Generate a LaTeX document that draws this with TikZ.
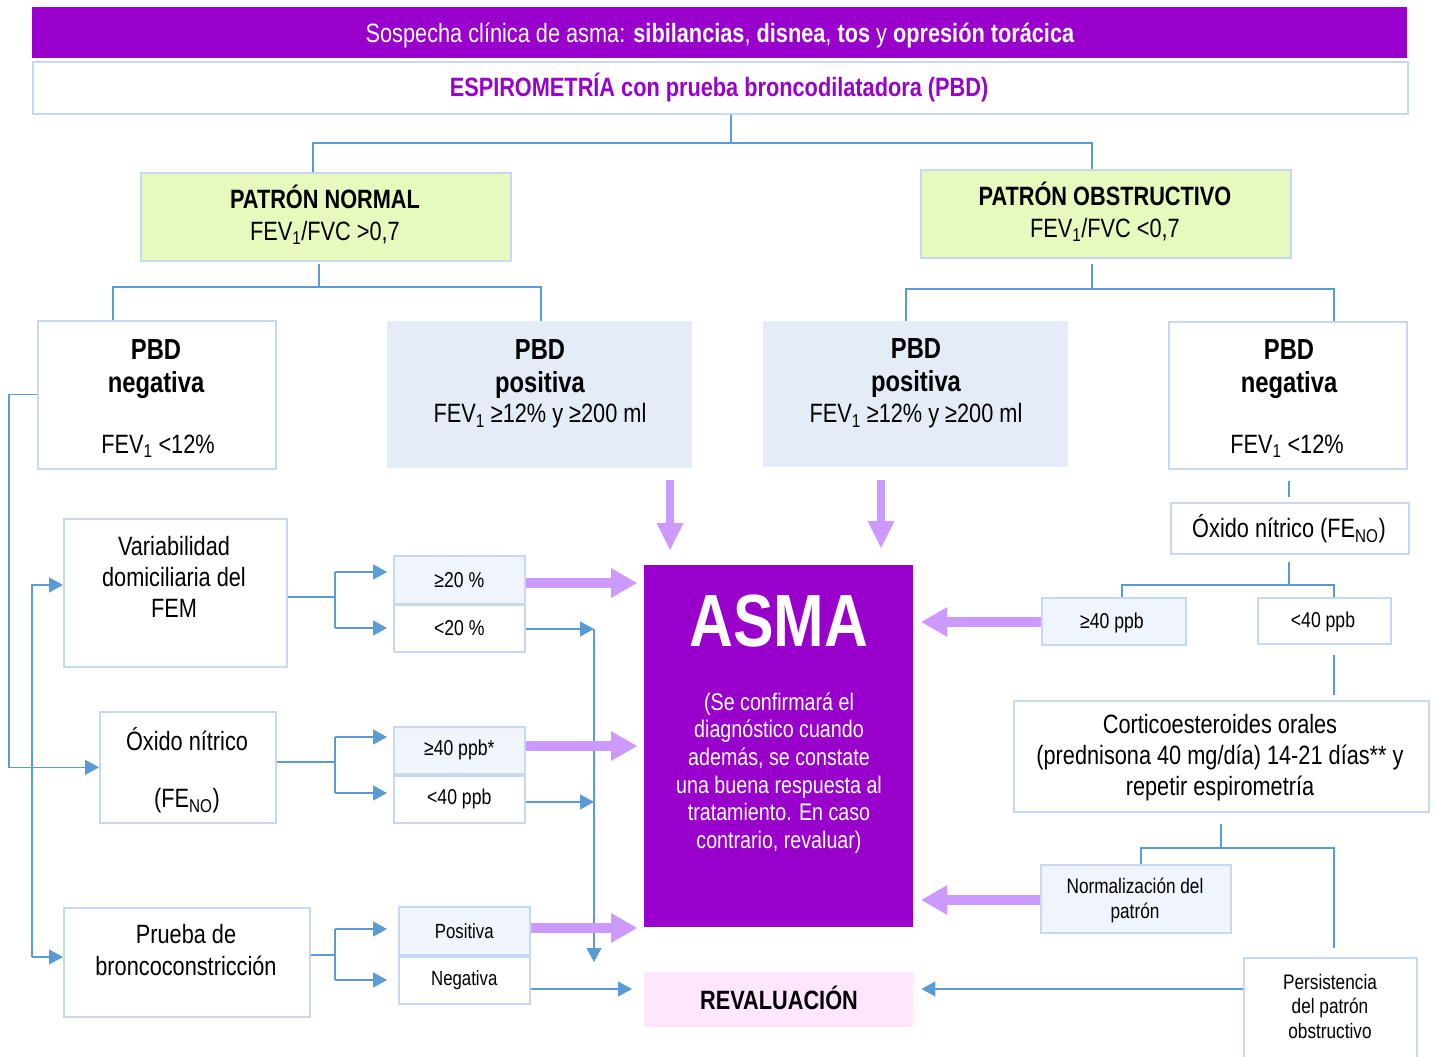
\documentclass[tikz,border=0pt]{standalone}
\usepackage{fontspec}
\setmainfont{Liberation Sans}[FakeStretch=0.82]
\usetikzlibrary{arrows.meta}
\definecolor{purp}{RGB}{153,0,204}
\definecolor{vio}{RGB}{204,153,255}
\definecolor{bordc}{RGB}{198,217,241}
\definecolor{lblue}{RGB}{91,155,213}
\definecolor{patfill}{RGB}{230,250,190}
\definecolor{posfill}{RGB}{228,236,248}
\definecolor{lfill}{RGB}{240,244,252}
\definecolor{revfill}{RGB}{255,230,255}
\newcommand\fsz[2]{\fontsize{#1}{#2}\selectfont}
\newcommand\mkbox[6]{\node[#6, anchor=north west, inner sep=0, minimum width={(#4-#2)*1pt}, minimum height={(#5-#3)*1pt}] (#1) at (#2,#3) {};}
\begin{document}
\begin{tikzpicture}[x=1pt,y=-1pt,
  box/.style={draw=bordc, line width=1.6pt, fill=white},
  hdrbox/.style={fill=purp},
  patbox/.style={draw=bordc, line width=1.6pt, fill=patfill},
  posbox/.style={fill=posfill},
  lbox/.style={draw=bordc, line width=1.6pt, fill=lfill},
  asmabox/.style={fill=purp},
  revbox/.style={fill=revfill},
  txt/.style={inner sep=0, align=center},
  conn/.style={draw=lblue, line width=1.3pt},
  arr/.style={-{Triangle[length=14pt,width=15pt]}},
  parr/.style={draw=vio, line width=10pt, -{Triangle[length=26pt,width=30pt,line width=0pt]}},
  parrv/.style={draw=vio, line width=8pt, -{Triangle[length=27pt,width=27pt,line width=0pt]}}]
\useasboundingbox (0,0) rectangle (1435,1057);
% boxes
\mkbox{hdr}{32}{7}{1407}{58}{hdrbox}
\mkbox{esp}{32}{61}{1407}{113}{box}
\mkbox{pn}{140}{172}{510}{260}{patbox}
\mkbox{po}{920}{169}{1290}{257}{patbox}
\mkbox{pnl}{37}{320}{275}{468}{box}
\mkbox{ppl}{387}{321}{692}{468}{posbox}
\mkbox{ppr}{763}{321}{1068}{467}{posbox}
\mkbox{pnr}{1168}{321}{1406}{468}{box}
\mkbox{asma}{644}{565}{913}{927}{asmabox}
\mkbox{rev}{644}{972}{913}{1027}{revbox}
\mkbox{var}{63}{518}{286}{666}{box}
\mkbox{oxl}{99}{711}{275}{822}{box}
\mkbox{pru}{63}{907}{309}{1016}{box}
\mkbox{g20}{393}{555}{524}{603}{lbox}
\mkbox{l20}{393}{604}{524}{651}{box}
\mkbox{g40}{393}{726}{524}{773}{lbox}
\mkbox{l40}{393}{775}{524}{822}{box}
\mkbox{pos}{398}{906}{529}{954}{lbox}
\mkbox{neg}{398}{956}{529}{1003}{box}
\mkbox{oxr}{1170}{502}{1408}{553}{box}
\mkbox{rg40}{1041}{597}{1185}{644}{lbox}
\mkbox{rl40}{1257}{597}{1390}{643}{box}
\mkbox{cor}{1013}{700}{1428}{811}{box}
\mkbox{nor}{1040}{864}{1230}{932}{lbox}
\mkbox{per}{1243}{957}{1416}{1062}{box}
% texts
\node[txt, text=white, font=\fsz{26.5}{30}] (hdrt) at (720,35) {Sospecha clínica de asma: \textbf{sibilancias}, \textbf{disnea}, \textbf{tos} y \textbf{opresión torácica}};
\node[txt, text=purp, font=\fsz{26.5}{30}\bfseries] (espt) at (719,88) {ESPIROMETRÍA con prueba broncodilatadora (PBD)};
\node[txt, font=\fsz{26.5}{32}] (pnt) at (325,215) {\textbf{PATRÓN NORMAL}\\FEV\textsubscript{1}/FVC >0,7};
\node[txt, font=\fsz{26.5}{32}] (pot) at (1105,212) {\textbf{PATRÓN OBSTRUCTIVO}\\FEV\textsubscript{1}/FVC <0,7};
\node[txt, font=\fsz{29}{33}\bfseries] (pnlt) at (156,369) {PBD\\negativa};
\node[txt, font=\fsz{26.5}{30}] (pnlv) at (158,446) {FEV\textsubscript{1} <12\%};
\node[txt, font=\fsz{29}{33}\bfseries] (pplt) at (540,369) {PBD\\positiva};
\node[txt, font=\fsz{26.5}{30}] (pplv) at (540,416) {FEV\textsubscript{1} ≥12\% y ≥200 ml};
\node[txt, font=\fsz{29}{33}\bfseries] (pprt) at (916,368) {PBD\\positiva};
\node[txt, font=\fsz{26.5}{30}] (pprv) at (916,416) {FEV\textsubscript{1} ≥12\% y ≥200 ml};
\node[txt, font=\fsz{29}{33}\bfseries] (pnrt) at (1289,369) {PBD\\negativa};
\node[txt, font=\fsz{26.5}{30}] (pnrv) at (1287,446) {FEV\textsubscript{1} <12\%};
\node[txt, text=white, font=\fsz{74}{80}\bfseries] (asmat) at (779,621) {ASMA};
\node[txt, text=white, font=\fsz{24}{27.6}] (asmap) at (779,773) {(Se confirmará el\\diagnóstico cuando\\además, se constate\\una buena respuesta al\\tratamiento. En caso\\contrario, revaluar)};
\node[txt, font=\fsz{26.5}{30}\bfseries] (revt) at (779,998) {REVALUACIÓN};
\node[txt, font=\fsz{26.5}{31}] (vart) at (174,577) {Variabilidad\\domiciliaria del\\FEM};
\node[txt, font=\fsz{26.5}{31}] (oxlt) at (187,739) {Óxido nítrico};
\node[txt, font=\fsz{26.5}{31}] (oxlv) at (187,801) {(FE\textsubscript{NO})};
\node[txt, font=\fsz{26.5}{32}] (prut) at (186,950) {Prueba de\\broncoconstricción};
\node[txt, font=\fsz{21.5}{25}] (g20t) at (g20) {≥20 \%};
\node[txt, font=\fsz{21.5}{25}] (l20t) at (l20) {<20 \%};
\node[txt, font=\fsz{21.5}{25}] (g40t) at (g40) {≥40 ppb*};
\node[txt, font=\fsz{21.5}{25}] (l40t) at (l40) {<40 ppb};
\node[txt, font=\fsz{20.5}{25}] (post) at (pos) {Positiva};
\node[txt, font=\fsz{20.5}{25}] (negt) at (neg) {Negativa};
\node[txt, font=\fsz{26.5}{31}] (oxrt) at (1289,529) {Óxido nítrico (FE\textsubscript{NO})};
\node[txt, font=\fsz{21.5}{25}] (rg40t) at (1112,623) {≥40 ppb};
\node[txt, font=\fsz{21.5}{25}] (rl40t) at (1323,622) {<40 ppb};
\node[txt, font=\fsz{26.5}{31}] (cort) at (1220,758) {Corticoesteroides orales\\(prednisona 40 mg/día) 14-21 días** y\\repetir espirometría};
\node[txt, font=\fsz{21}{25}] (nort) at (1135,900) {Normalización del\\patrón};
\node[txt, font=\fsz{21}{24.5}] (pert) at (1330,1006) {Persistencia\\del patrón\\obstructivo};
% connectors top
\coordinate (j1) at (731,143); \coordinate (j1l) at (313,143); \coordinate (j1r) at (1092,143);
\draw[conn] (j1 |- esp.south) -- (j1);
\draw[conn] (j1l |- pn.north) -- (j1l) -- (j1r) -- (j1r |- po.north);
\coordinate (j2) at (319,287); \coordinate (j2l) at (113,287); \coordinate (j2r) at (541,287);
\draw[conn, shorten <=2pt] (j2 |- pn.south) -- (j2);
\draw[conn] (j2l |- pnl.north) -- (j2l) -- (j2r) -- (j2r |- ppl.north);
\coordinate (j3) at (1092,289); \coordinate (j3l) at (906,289); \coordinate (j3r) at (1334,289);
\draw[conn, shorten <=5pt] (j3 |- po.south) -- (j3);
\draw[conn] (j3l |- ppr.north) -- (j3l) -- (j3r) -- (j3r |- pnr.north);
% right chain
\coordinate (r1) at (1289,0);
\draw[conn, shorten <=11pt, shorten >=5pt] (r1 |- pnr.south) -- (r1 |- oxr.north);
\coordinate (j5) at (1289,585); \coordinate (j5l) at (1122,585); \coordinate (j5r) at (1334,585);
\draw[conn, shorten <=7pt] (j5 |- oxr.south) -- (j5);
\draw[conn] (j5l |- rg40.north) -- (j5l) -- (j5r) -- (j5r |- rl40.north);
\draw[conn, shorten <=10pt, shorten >=5pt] (j5r |- rl40.south) -- (j5r |- cor.north);
\coordinate (j6) at (1221,848); \coordinate (j6l) at (1141,848); \coordinate (j6r) at (1334,848);
\draw[conn, shorten <=11pt] (j6 |- cor.south) -- (j6);
\draw[conn] (j6l |- nor.north) -- (j6l) -- (j6r) -- ([yshift=9pt]j6r |- per.north);
% left chain
\coordinate (k1) at (9,0);
\draw[conn, arr] (pnl.west) -- (pnl.west -| k1) |- (oxl.west);
\coordinate (k2a) at (32,585); \coordinate (k2b) at (32,957);
\draw[conn, arr] (k2b) -- (k2a) -- (k2a -| var.west);
\draw[conn, arr] (k2b) -- (k2b -| pru.west);
% branches
\coordinate (m1) at (335,597); \coordinate (m1t) at (335,572); \coordinate (m1b) at (335,628);
\draw[conn] (m1 -| var.east) -- (m1);
\draw[conn] (m1t) -- (m1b);
\draw[conn, arr, shorten >=6pt] (m1t) -- (m1t -| g20.west);
\draw[conn, arr, shorten >=6pt] (m1b) -- (m1b -| l20.west);
\coordinate (m2) at (335,762); \coordinate (m2t) at (335,737); \coordinate (m2b) at (335,793);
\draw[conn] (m2 -| oxl.east) -- (m2);
\draw[conn] (m2t) -- (m2b);
\draw[conn, arr, shorten >=6pt] (m2t) -- (m2t -| g40.west);
\draw[conn, arr, shorten >=6pt] (m2b) -- (m2b -| l40.west);
\coordinate (m3) at (335,955); \coordinate (m3t) at (335,929); \coordinate (m3b) at (335,980);
\draw[conn] (m3 -| pru.east) -- (m3);
\draw[conn] (m3t) -- (m3b);
\draw[conn, arr, shorten >=11pt] (m3t) -- (m3t -| pos.west);
\draw[conn, arr, shorten >=11pt] (m3b) -- (m3b -| neg.west);
% thin arrows to the vertical line and revaluacion
\coordinate (v1) at (594,629); \coordinate (v2) at (594,962); \coordinate (v3) at (594,802);
\draw[conn, arr] (v1 -| l20.east) -- (v1);
\draw[conn, arr] (v1) -- (v2);
\draw[conn, arr] (v3 -| l40.east) -- (v3);
\coordinate (n1) at (0,989);
\draw[conn, arr, shorten >=12pt] (n1 -| neg.east) -- (n1 -| rev.west);
\draw[conn, arr, shorten >=8pt] (n1 -| per.west) -- (n1 -| rev.east);
% purple block arrows
\coordinate (p1) at (670,480); \coordinate (p2) at (881,480);
\draw[parrv] (p1) -- ([yshift=15pt]p1 |- asma.north);
\draw[parrv] (p2) -- ([yshift=17pt]p2 |- asma.north);
\coordinate (q1) at (0,583); \coordinate (q2) at (0,746); \coordinate (q3) at (0,928);
\coordinate (q4) at (0,622); \coordinate (q5) at (0,900);
\draw[parr, shorten >=7pt] (q1 -| g20.east) -- (q1 -| asma.west);
\draw[parr, shorten >=7pt] (q2 -| g40.east) -- (q2 -| asma.west);
\draw[parr, shorten >=7pt] (q3 -| pos.east) -- (q3 -| asma.west);
\draw[parr, shorten >=8pt] (q4 -| rg40.west) -- (q4 -| asma.east);
\draw[parr, shorten >=8pt] (q5 -| nor.west) -- (q5 -| asma.east);
\end{tikzpicture}
\end{document}
